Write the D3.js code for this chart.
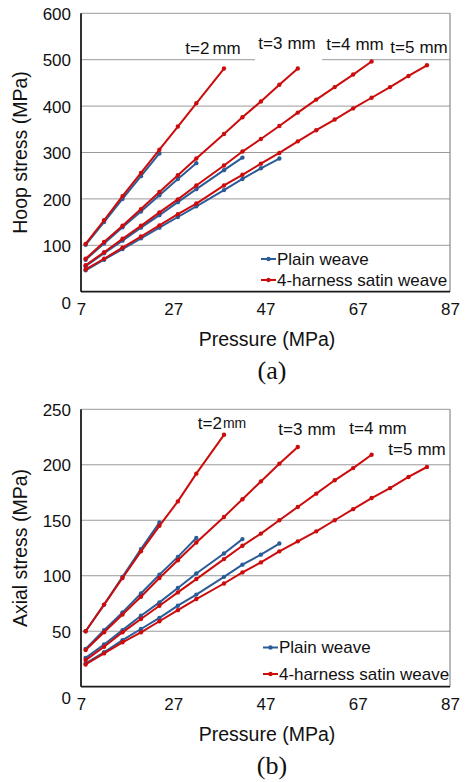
<!DOCTYPE html>
<html>
<head>
<meta charset="utf-8">
<script src="https://cdn.jsdelivr.net/npm/d3@7"></script>
<style>
  body { margin: 0; background: #fff; }
  svg { font-family: "Liberation Sans", Arial, sans-serif; }
</style>
</head>
<body>
<svg id="chart" width="466" height="782"></svg>
<script>
// pressure steps (MPa) shared by every series, each series uses the first n
const pressure = [8, 12, 16, 20, 24, 28, 32, 38, 42, 46, 50, 54, 58, 62, 66, 70, 74, 78, 82];
const thickness = ["2", "3", "4", "5"];

// (a) hoop stress, MPa
const hoopPlain2 = [101, 150, 200, 249, 298];
const hoopPlain3 = [69, 104, 139, 173, 208, 243, 277];
const hoopPlain4 = [55, 83, 110, 138, 165, 193, 221, 262, 289];
const hoopPlain5 = [46, 69, 92, 115, 138, 161, 184, 219, 243, 266, 287];
const hoopSatin2 = [103, 154, 206, 256, 306, 356, 406, 481];
const hoopSatin3 = [71, 107, 142, 178, 215, 251, 287, 340, 376, 410, 446, 481];
const hoopSatin4 = [57, 85, 114, 142, 171, 199, 229, 272, 302, 329, 357, 386, 414, 441, 468, 496];
const hoopSatin5 = [48, 71, 95, 119, 143, 167, 190, 229, 252, 276, 299, 324, 348, 371, 395, 418, 441, 465, 488];

// (b) axial stress, MPa
const axialPlain2 = [50, 74, 99, 124, 148];
const axialPlain3 = [34, 51, 67, 84, 101, 117, 134];
const axialPlain4 = [26, 38, 51, 64, 76, 89, 102, 120, 133];
const axialPlain5 = [21, 31, 42, 52, 62, 73, 83, 99, 110, 119, 129];
const axialSatin2 = [50, 74, 98, 122, 145, 167, 192, 227];
const axialSatin3 = [33, 49, 65, 81, 98, 114, 130, 153, 169, 185, 201, 216];
const axialSatin4 = [24, 36, 49, 61, 73, 85, 97, 115, 127, 138, 150, 162, 174, 186, 197, 209];
const axialSatin5 = [20, 30, 40, 49, 59, 69, 79, 93, 103, 112, 122, 131, 140, 150, 160, 170, 179, 189, 198];

const xTicks = [7, 27, 47, 67, 87];
const legendNames = ["Plain weave", "4-harness satin weave"];

const blue = "#2b5c97";
const red = "#cc0c0c";

const svg = d3.select("#chart");
const x = d3.scaleLinear().domain([7, 87]).range([81, 450]);

function drawSeries(g, y, values, color) {
  const pts = values.map((v, i) => [pressure[i], v]);
  g.append("path")
    .datum(pts)
    .attr("fill", "none")
    .attr("stroke", color)
    .attr("stroke-width", 2)
    .attr("d", d3.line().x(d => x(d[0])).y(d => y(d[1])));
  g.selectAll(null)
    .data(pts)
    .enter().append("circle")
    .attr("cx", d => x(d[0]))
    .attr("cy", d => y(d[1]))
    .attr("r", 2.2)
    .attr("fill", color);
}

function drawPanel(p) {
  const y = d3.scaleLinear().domain([0, p.yMax]).range([p.bottom, p.top]);
  const g = svg.append("g");
  const yTicks = d3.range(0, p.yMax + 1, p.yStep);

  // grid + frame
  g.append("g").selectAll("line")
    .data(yTicks.slice(1))
    .enter().append("line")
    .attr("x1", x(7)).attr("x2", x(87))
    .attr("y1", d => y(d)).attr("y2", d => y(d))
    .attr("stroke", "#9a9a9a").attr("stroke-width", 1);
  g.append("line")
    .attr("x1", x(87)).attr("x2", x(87))
    .attr("y1", y(0)).attr("y2", y(p.yMax))
    .attr("stroke", "#8a8a8a").attr("stroke-width", 1.2);

  // label boxes that hide the grid (only the odd excel text box)
  p.labels.forEach(l => {
    if (l.box) {
      g.append("rect").attr("x", l.box[0]).attr("y", l.box[1])
        .attr("width", l.box[2]).attr("height", l.box[3]).attr("fill", "#fff");
    }
  });

  // y axis
  const ya = g.append("g")
    .attr("transform", `translate(${x(7) - 10},0)`)
    .call(d3.axisLeft(y).tickValues(yTicks).tickSize(0).tickPadding(0));
  ya.select(".domain").remove();
  ya.selectAll("text")
    .attr("font-size", 17).attr("font-family", "Liberation Sans, Arial, sans-serif")
    .attr("fill", "#111")
    .attr("dy", d => d === 0 ? "1.0em" : "0.36em");

  // x axis
  const xa = g.append("g")
    .attr("transform", `translate(0,${y(0)})`)
    .call(d3.axisBottom(x).tickValues(xTicks).tickSize(0).tickPadding(11));
  xa.select(".domain").remove();
  xa.selectAll("text")
    .attr("font-size", 17).attr("font-family", "Liberation Sans, Arial, sans-serif")
    .attr("fill", "#111");

  // series: plain first, satin on top
  p.plain.forEach(s => drawSeries(g, y, s, blue));
  p.satin.forEach(s => drawSeries(g, y, s, red));

  // axis lines
  g.append("line")
    .attr("x1", x(7)).attr("x2", x(7)).attr("y1", y(0)).attr("y2", y(p.yMax))
    .attr("stroke", "#1a1a1a").attr("stroke-width", 1.8);
  g.append("line")
    .attr("x1", x(7)).attr("x2", x(87)).attr("y1", y(0)).attr("y2", y(0))
    .attr("stroke", "#1a1a1a").attr("stroke-width", 1.8);

  // thickness labels
  p.labels.forEach((l, i) => {
    const t = g.append("text")
      .attr("x", l.x).attr("y", l.y)
      .attr("text-anchor", "middle")
      .attr("dominant-baseline", "central")
      .attr("font-size", 17).attr("fill", "#111");
    t.append("tspan").text("t=" + thickness[i]);
    t.append("tspan").attr("dx", l.gap).attr("font-size", l.unitSize).text("mm");
  });

  // legend
  const colors = [blue, red];
  legendNames.forEach((name, i) => {
    const ly = p.legendY[i];
    g.append("line")
      .attr("x1", p.legendX).attr("x2", p.legendX + 15)
      .attr("y1", ly).attr("y2", ly)
      .attr("stroke", colors[i]).attr("stroke-width", 2);
    g.append("circle")
      .attr("cx", p.legendX + 7.5).attr("cy", ly).attr("r", 2.2).attr("fill", colors[i]);
    g.append("text")
      .attr("x", p.legendX + 16).attr("y", ly)
      .attr("dominant-baseline", "central")
      .attr("font-size", 17).attr("fill", "#111")
      .text(name);
  });

  // titles
  g.append("text")
    .attr("transform", `translate(20,${(p.top + p.bottom) / 2}) rotate(-90)`)
    .attr("text-anchor", "middle").attr("dominant-baseline", "central")
    .attr("font-size", 19.5).attr("fill", "#111")
    .text(p.yTitle);
  g.append("text")
    .attr("x", 267).attr("y", p.bottom + 47)
    .attr("text-anchor", "middle").attr("dominant-baseline", "central")
    .attr("font-size", 19.5).attr("fill", "#111")
    .text("Pressure (MPa)");
  g.append("text")
    .attr("x", 272).attr("y", p.bottom + 79)
    .attr("text-anchor", "middle").attr("dominant-baseline", "central")
    .attr("font-family", "Liberation Serif, Times New Roman, serif")
    .attr("font-size", 26).attr("fill", "#111")
    .text(p.caption);
}

drawPanel({
  top: 13.3, bottom: 291.7, yMax: 600, yStep: 100,
  plain: [hoopPlain2, hoopPlain3, hoopPlain4, hoopPlain5],
  satin: [hoopSatin2, hoopSatin3, hoopSatin4, hoopSatin5],
  yTitle: "Hoop stress (MPa)", caption: "(a)",
  legendX: 261, legendY: [259, 280],
  labels: [
    { x: 213, y: 48, gap: 3, unitSize: 17 },
    { x: 287, y: 43, gap: 5, unitSize: 17, box: [255, 33, 67, 29] },
    { x: 355, y: 44, gap: 5, unitSize: 17 },
    { x: 419, y: 47, gap: 5, unitSize: 17 }
  ]
});

drawPanel({
  top: 409.3, bottom: 686.7, yMax: 250, yStep: 50,
  plain: [axialPlain2, axialPlain3, axialPlain4, axialPlain5],
  satin: [axialSatin2, axialSatin3, axialSatin4, axialSatin5],
  yTitle: "Axial stress (MPa)", caption: "(b)",
  legendX: 263, legendY: [647.5, 674],
  labels: [
    { x: 222, y: 423, gap: 1, unitSize: 14 },
    { x: 307, y: 429, gap: 5, unitSize: 17 },
    { x: 378, y: 428, gap: 5, unitSize: 17 },
    { x: 417, y: 449, gap: 5, unitSize: 17 }
  ]
});
</script>
</body>
</html>
